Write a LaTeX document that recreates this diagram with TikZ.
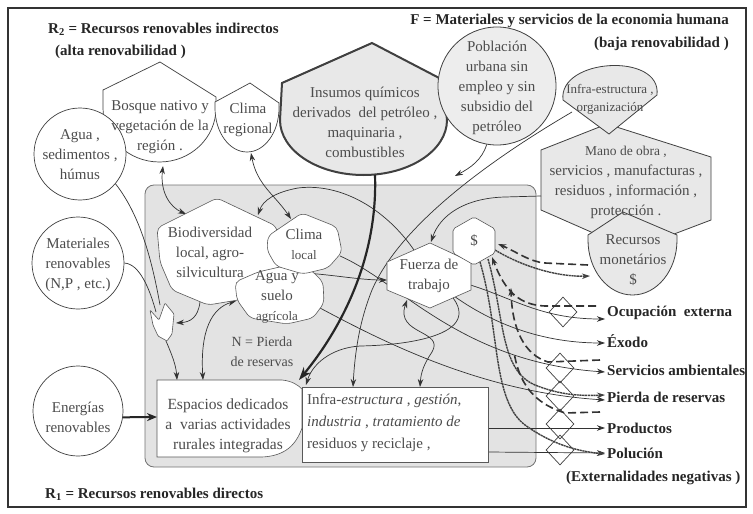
\documentclass[tikz,border=0pt]{standalone}
\usepackage{fontspec}
\setmainfont{Liberation Serif}
\usetikzlibrary{arrows.meta,shapes.geometric}
\begin{document}
\begin{tikzpicture}[x=1pt,y=-1pt,
  srcshape/.style={draw=black!75,line width=0.7pt,fill=white},
  ecoshape/.style={draw=black!75,line width=0.8pt,fill=black!9},
  inshape/.style={draw=black!65,line width=0.6pt,fill=white,rounded corners=5pt},
  txt/.style={font=\fontsize{15}{20}\selectfont,text=black!70,align=center,inner sep=0pt},
  lbl/.style={font=\fontsize{15}{18}\selectfont\bfseries,text=black!85,anchor=west,inner sep=0pt},
  hdr/.style={font=\fontsize{15}{18}\selectfont\bfseries,text=black!85,inner sep=0pt},
  ln/.style={draw=black!80,line width=0.7pt},
  arr/.style={-{Stealth[length=8pt,width=5.5pt]}},
  darr/.style={{Stealth[length=8pt,width=5.5pt]}-{Stealth[length=8pt,width=5.5pt]}},
  dsh/.style={draw=black!80,line width=1.6pt,dash pattern=on 8pt off 4pt},
  dotl/.style={draw=black!75,line width=1.4pt,dash pattern=on 2.2pt off 0.6pt},
  dmdst/.style={diamond,draw=black!75,line width=0.7pt,minimum width=28pt,minimum height=30pt,inner sep=0pt}
]
\useasboundingbox (0,0) rectangle (753,514);
\fill[white] (0,0) rectangle (753,514);
\draw[line width=2.2pt,black!80] (8,8) rectangle (746,507);

% gray container
\filldraw[fill=black!11,draw=black!55,line width=0.8pt,rounded corners=9pt] (145,185) rectangle (536,467);

% outside shapes
\filldraw[srcshape] (103,108) -- (103,90) -- (160,62) -- (216,97) -- (216,108) arc[start angle=0,end angle=-180,x radius=56.5pt,y radius=54pt] -- cycle;
\filldraw[srcshape] (215,108) -- (215,102) -- (250,83) -- (279,103) -- (279,108) arc[start angle=0,end angle=-180,x radius=32pt,y radius=44pt] -- cycle;
\filldraw[ecoshape,line width=2pt] (280,120) -- (282,83) -- (372,43) -- (443,80) -- (447,120) arc[start angle=0,end angle=-180,x radius=83.5pt,y radius=55pt] -- cycle;
\node[circle,draw=black!75,line width=0.8pt,fill=black!7,minimum size=118pt,inner sep=0pt] (pobl) at (497,86) {};
\filldraw[ecoshape] (541,150) -- (607,124) -- (711,157) -- (711,220) -- (632,250) -- (541,210) -- cycle;
\filldraw[ecoshape] (563,100) .. controls (558,58) and (662,52) .. (657,95) -- (609,134) -- cycle;
\filldraw[ecoshape] (588,240) -- (588,235) -- (623,212) -- (677,235) -- (677,240) arc[start angle=0,end angle=-180,x radius=44.5pt,y radius=55pt] -- cycle;
\node[circle,srcshape,minimum size=92pt,inner sep=0pt] (agua) at (80,154) {};
\node[circle,srcshape,minimum size=92pt,inner sep=0pt] (mat) at (78,263) {};
\node[circle,srcshape,minimum size=90pt,inner sep=0pt] (energ) at (78,411) {};

% diamonds
\node[dmdst] (d1) at (563,312) {};
\node[dmdst] (d2) at (560,368) {};
\node[dmdst] (d3) at (560,396) {};
\node[dmdst] (d4) at (560,424) {};
\node[dmdst] (d5) at (560,450) {};

% labels (right)
\node[lbl] (lOcup) at (607,313) {Ocupación\ \ externa};
\node[lbl] (lExo) at (607,341) {Éxodo};
\node[lbl] (lServ) at (607,370) {Servicios ambientales};
\node[lbl] (lPier) at (607,397) {Pierda de reservas};
\node[lbl] (lProd) at (607,428) {Productos};
\node[lbl] (lPol) at (607,453) {Polución};
\node[lbl] (lExt) at (566,478) {(Externalidades negativas )};

\node[txt] (tFuerza) at (429,276) {Fuerza de\\trabajo};

% named coordinates
\coordinate (bosqueB) at (163,166);
\coordinate (bioTL) at (186,214);
\coordinate (climaRB) at (251,153);
\coordinate (climaLT) at (291,219);
\coordinate (bioTR) at (258,215);
\coordinate (fzaT) at (431,242);
\coordinate (fzaL) at (387,280);
\coordinate (fzaBL) at (407,300);
\coordinate (aguaSTR) at (305,273);
\coordinate (climaLR) at (340,256);
\coordinate (aguaSR) at (320,308);
\coordinate (aguaSL) at (236,301);
\coordinate (insB) at (375,175);
\coordinate (junc) at (299,380);
\coordinate (junc2) at (306,385);
\coordinate (infOrgL) at (572,112);
\coordinate (infT1) at (353,387);
\coordinate (infT2) at (420,387);
\coordinate (manoL) at (541,196);
\coordinate (poblEnd) at (455,176);
\coordinate (tulT) at (160,305);
\coordinate (tulT2) at (156,312);
\coordinate (tulB) at (166,341);
\coordinate (tulR) at (176,323);
\coordinate (bioB) at (200,302);
\coordinate (espT1) at (177,380);
\coordinate (espT2) at (203,380);
\coordinate (espL) at (157,417);
\coordinate (infR1) at (488,428);
\coordinate (infR2) at (488,452);
\coordinate (dolB1) at (480,262);
\coordinate (dolB2) at (488,259);
\coordinate (dolR) at (495,250);
\coordinate (dolR2) at (498,244);
\coordinate (dolB3) at (492,257);
\coordinate (recL) at (590,276);
\coordinate (recL2) at (588,265);
\coordinate (dd1) at (596,306);
\coordinate (dd2) at (600,360);
\coordinate (dd3) at (600,412);
\coordinate (dsEnd2) at (511,288);
\coordinate (dsEnd3) at (514,352);

% connectors
\draw[ln,darr] (bosqueB) .. controls (160,192) and (170,207) .. (bioTL);
\draw[ln,darr] (climaRB) .. controls (257,185) and (275,195) .. (climaLT);
\draw[ln,arr] (tFuerza.center) .. controls (400,215) and (345,182) .. (298,188) .. controls (276,192) and (263,200) .. (bioTR);
\draw[ln,arr] (tFuerza.center) .. controls (500,285) and (525,319) .. ([xshift=-2pt,yshift=-6pt]lOcup.west);
\draw[ln,arr] (tFuerza.center) .. controls (480,322) and (540,343) .. ([xshift=-2pt,yshift=-2pt]lExo.west);
\draw[ln,arr] (aguaSTR) .. controls (335,275) and (360,280) .. (fzaL);
\draw[ln,arr] (climaLR) .. controls (400,282) and (460,362) .. ([xshift=-2pt,yshift=-2pt]lServ.west);
\draw[ln,arr] (aguaSR) .. controls (380,340) and (480,392) .. ([xshift=-2pt,yshift=-3pt]lPier.west);
\draw[draw=black!85,line width=2.2pt,-{Stealth[length=13pt,width=9pt]}] (insB) .. controls (378,260) and (340,330) .. (junc);
\draw[ln,arr] (tFuerza.center) .. controls (505,330) and (420,345) .. (360,346) .. controls (330,348) and (312,365) .. (junc2);
\draw[ln,arr] (infOrgL) .. controls (490,160) and (400,225) .. (372,290) .. controls (360,320) and (355,350) .. (infT1);
\draw[ln,arr] (manoL) -- (505,197) .. controls (465,198) and (440,215) .. (fzaT);
\draw[ln,arr] (pobl.-100) .. controls (482,160) and (470,168) .. (poblEnd);
\draw[ln] (agua.-40) .. controls (140,215) and (152,260) .. (tulT);
\draw[ln] (mat.east) .. controls (140,264) and (150,290) .. (tulT2);
\draw[ln,arr] (tulB) .. controls (172,355) and (176,365) .. (espT1);
\draw[ln,arr] (bioB) .. controls (198,318) and (190,322) .. (tulR);
\draw[ln,darr] (espT2) .. controls (200,330) and (212,308) .. (aguaSL);
\draw[draw=black!85,line width=2pt,-{Stealth[length=10pt,width=8pt]}] (energ.-8) -- (espL);
\draw[ln,arr] (infR1) -- ([xshift=-2pt]lProd.west);
\draw[ln,arr] (infR2) -- ([xshift=-2pt]lPol.west);
\draw[ln,darr] (fzaBL) .. controls (395,335) and (445,330) .. (432,352) .. controls (424,364) and (421,372) .. (infT2);
\draw[dotl,arr] (dolB1) .. controls (500,330) and (492,400) .. (525,425) .. controls (550,443) and (575,451) .. ([xshift=-2pt,yshift=-1pt]lPol.west);
\draw[dotl,arr] (dolB2) .. controls (505,320) and (500,370) .. (535,385) .. controls (560,395) and (580,396) .. ([xshift=-2pt,yshift=2pt]lPier.west);
\draw[dotl,arr] (dolR) .. controls (525,268) and (560,277) .. (recL);
\draw[dsh,arr] (recL2) -- (545,263) .. controls (530,262) and (515,251) .. (dolR2);
\draw[dsh,arr] (dd1) -- (545,306) .. controls (520,305) and (505,292) .. (dolB3);
\draw[dsh,arr] (dd2) -- (548,362) .. controls (525,355) and (512,330) .. (dsEnd2);
\draw[dsh] (dd3) -- (565,413) .. controls (540,405) and (520,390) .. (dsEnd3);

% inner shapes
\filldraw[inshape] (157,228) -- (217,198) -- (276,226) -- (284,262) -- (250,298) -- (208,305) -- (172,290) -- (160,262) -- cycle;
\filldraw[inshape] (235,282) -- (258,272) -- (284,266) -- (311,270) -- (323,282) -- (324,303) -- (313,318) -- (287,324) -- (250,318) -- (237,300) -- cycle;
\filldraw[inshape] (268,236) -- (302,213) -- (337,227) -- (342,252) -- (328,268) -- (303,274) -- (276,266) -- (267,250) -- cycle;
\filldraw[inshape,rounded corners=1pt] (150,310) -- (159,320) -- (165,303) -- (174,314) -- (172,334) -- (167,341) -- (158,336) -- (153,325) -- cycle;
\filldraw[inshape,rounded corners=0pt] (430,243) -- (471,262) -- (471,290) -- (430,308) -- (387,290) -- (387,262) -- cycle;
\filldraw[inshape,rounded corners=2pt] (474,217) -- (495,229) -- (495,253) -- (474,265) -- (453,253) -- (453,229) -- cycle;
\filldraw[inshape,rounded corners=0pt] (157,380) -- (282,380) .. controls (292,381) and (298,385) .. (302,389) -- (302,428) .. controls (296,445) and (285,456) .. (262,457) -- (157,457) -- cycle;
\filldraw[inshape,rounded corners=0pt] (302,387) rectangle (488,462);

% texts
\node[hdr,anchor=west] (hR2) at (48,29) {R\textsubscript{2} = Recursos renovables indirectos};
\node[hdr,anchor=west] (hR2b) at (55,52) {(alta renovabilidad )};
\node[hdr,anchor=east] (hF) at (729,21) {F = Materiales y servicios de la economia humana};
\node[hdr,anchor=east] (hFb) at (729,44) {(baja renovabilidad )};
\node[hdr,anchor=west] (hR1) at (45,494) {R\textsubscript{1} = Recursos renovables directos};

\node[txt] (tBosque) at (160,127) {Bosque nativo y\\vegetación de la\\región .};
\node[txt] (tClimaR) at (248,120) {Clima\\regional};
\node[txt] (tInsumos) at (365,122) {Insumos químicos\\derivados\ \ del petróleo ,\\maquinaria ,\\combustibles};
\node[txt] (tPobl) at (497,88) {Población\\urbana sin\\empleo y sin\\subsidio del\\petróleo};
\node[txt,font=\fontsize{13}{18}\selectfont] (tInfraOrg) at (610,99) {Infra-estructura ,\\organización};
\node[txt] (tMano) at (626,182) {{\fontsize{13.5}{20}\selectfont Mano de obra ,}\\servicios , manufacturas ,\\residuos , información ,\\protección .};
\node[txt] (tRecursos) at (633,260) {Recursos\\monetários\\\$};
\node[txt] (tAgua) at (80,155) {Agua ,\\sedimentos ,\\húmus};
\node[txt] (tMat) at (78,265) {Materiales\\renovables\\(N,P , etc.)};
\node[txt] (tEnerg) at (78,417) {Energías\\renovables};
\node[txt] (tBio) at (210,252) {Biodiversidad\\local, agro-\\silvicultura};
\node[txt] (tClimaL) at (304,244) {Clima\\{\fontsize{13}{20}\selectfont local}};
\node[txt] (tAguaS) at (277,297) {Agua y\\suelo\\{\fontsize{13}{20}\selectfont agrícola}};
\node[txt,font=\fontsize{14}{20}\selectfont] (tN) at (262,352) {N = Pierda\\de reservas};
\node[txt] (tDollar) at (474,241) {\$};
\node[txt,font=\fontsize{15.5}{20}\selectfont] (tEsp) at (228,426) {Espacios dedicados\\a\ \ varias actividades\\rurales integradas};
\node[txt,align=left,anchor=west,font=\fontsize{15}{22}\selectfont] (tInfra) at (307,423) {Infra-\textit{estructura} , \textit{gestión},\\\textit{industria} , \textit{tratamiento de}\\residuos y reciclaje ,};
\node[txt] (tFuerza2) at (429,276) {Fuerza de\\trabajo};
\end{tikzpicture}
\end{document}
